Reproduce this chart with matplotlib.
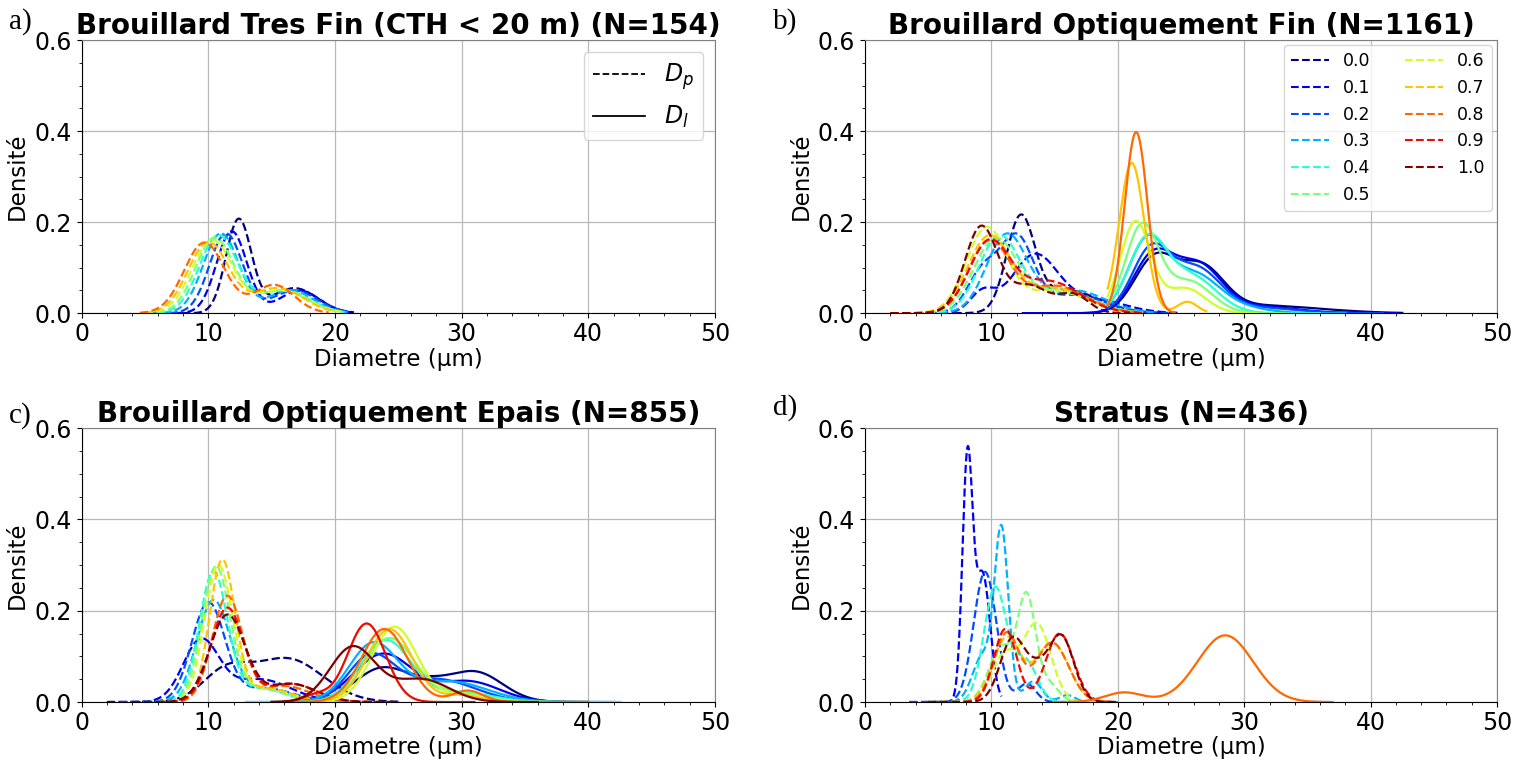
import numpy as np
import matplotlib
matplotlib.use("Agg")
import matplotlib.pyplot as plt
from matplotlib.lines import Line2D

# niveaux de couleur (jet) et styles
niveaux = [0.0, 0.1, 0.2, 0.3, 0.4, 0.5, 0.6, 0.7, 0.8, 0.9, 1.0]

titres = ["Brouillard Tres Fin (CTH < 20 m) (N=154)",
          "Brouillard Optiquement Fin (N=1161)",
          "Brouillard Optiquement Epais (N=855)",
          "Stratus (N=436)"]
lettres = ["a)", "b)", "c)", "d)"]

# Courbes : pour chaque niveau, pics (centre, largeur, hauteur) et domaine (debut, fin)
# --- a) Dp
a_dp_niveaux = [0.0, 0.1, 0.2, 0.3, 0.4, 0.5, 0.6, 0.7, 0.8]
a_dp_pics = [
    [(12.4, 1.0, 0.205), (16.8, 1.8, 0.055)],
    [(11.85, 1.2, 0.18), (17.2, 1.6, 0.05)],
    [(11.4, 1.3, 0.175), (16.8, 1.8, 0.05)],
    [(11.0, 1.4, 0.175), (16.5, 1.8, 0.05)],
    [(10.8, 1.5, 0.17), (16.0, 2.0, 0.05)],
    [(10.5, 1.5, 0.165), (15.8, 2.0, 0.05)],
    [(10.3, 1.6, 0.16), (15.8, 2.0, 0.05)],
    [(10.0, 1.6, 0.155), (15.5, 2.0, 0.055)],
    [(9.7, 1.6, 0.155), (15.2, 1.6, 0.062)],
]
a_dp_domaines = [(7, 21.5), (6.5, 21.3), (6, 21), (5.5, 21), (5, 21), (5, 20.5),
                 (5, 20.5), (4.8, 20), (4.6, 19.5)]

# --- b) Dp et Dl
b_dp_niveaux = niveaux
b_dp_pics = [
    [(12.3, 1.1, 0.2), (16.0, 2.5, 0.05)],
    [(9.3, 1.0, 0.045), (13.4, 1.8, 0.125), (18.0, 2.5, 0.03)],
    [(9.3, 1.2, 0.09), (12.0, 1.3, 0.16), (16.5, 2.5, 0.04)],
    [(11.2, 1.6, 0.17), (16.5, 2.5, 0.05)],
    [(10.6, 1.6, 0.165), (15.5, 2.5, 0.045)],
    [(10.3, 1.7, 0.16), (15.5, 2.5, 0.05)],
    [(9.6, 1.6, 0.185), (15.0, 2.5, 0.05)],
    [(9.8, 1.7, 0.165), (15.0, 2.5, 0.055)],
    [(9.8, 1.6, 0.155), (15.0, 2.5, 0.06)],
    [(9.8, 1.6, 0.15), (14.5, 2.5, 0.07)],
    [(9.2, 1.3, 0.19), (13.0, 1.5, 0.06), (16.5, 1.2, 0.04)],
]
b_dp_domaines = [(7, 24), (5, 25), (5, 24), (4, 23), (3, 22), (3, 22), (3, 22),
                 (3, 22), (2, 22), (2, 22), (2, 21)]
b_dl_niveaux = [0.0, 0.1, 0.2, 0.3, 0.4, 0.5, 0.6, 0.7, 0.8]
b_dl_pics = [
    [(22.9, 1.6, 0.118), (26.6, 1.8, 0.1), (31.5, 3.0, 0.015), (36.5, 3.0, 0.005)],
    [(22.8, 1.6, 0.125), (26.4, 1.8, 0.1), (31.0, 3.0, 0.015)],
    [(22.6, 1.5, 0.135), (26.2, 1.9, 0.095), (31.0, 3.0, 0.012)],
    [(22.3, 1.5, 0.155), (26.0, 2.0, 0.085), (30.0, 2.0, 0.01)],
    [(22.3, 1.5, 0.155), (25.8, 2.0, 0.08)],
    [(21.9, 1.3, 0.19), (25.6, 1.8, 0.07)],
    [(21.4, 1.2, 0.2), (25.3, 1.6, 0.055)],
    [(21.1, 1.0, 0.33), (25.5, 0.8, 0.025)],
    [(21.45, 0.9, 0.398)],
]
b_dl_domaines = [(12.5, 42.5), (12.5, 42), (19.2, 41), (19.2, 38), (19.2, 36),
                 (19.2, 33), (19.2, 31), (19.2, 27), (19.2, 24.5)]

# --- c) Dp et Dl
c_dp_niveaux = niveaux
c_dp_pics = [
    [(11.3, 1.8, 0.06), (16.2, 2.8, 0.095)],
    [(9.4, 1.4, 0.13), (14.0, 2.5, 0.05)],
    [(10.0, 1.3, 0.215), (14.5, 2.2, 0.03)],
    [(10.4, 1.3, 0.22), (14.5, 2.0, 0.03)],
    [(10.4, 1.1, 0.28), (14.0, 2.0, 0.03)],
    [(10.6, 1.1, 0.29), (14.0, 2.0, 0.03)],
    [(10.8, 1.1, 0.295), (14.5, 2.0, 0.03)],
    [(11.1, 1.0, 0.305), (14.5, 2.0, 0.03)],
    [(11.5, 1.2, 0.23), (16.0, 2.0, 0.035)],
    [(11.5, 1.3, 0.205), (16.5, 2.0, 0.04)],
    [(11.5, 1.4, 0.19), (16.5, 2.0, 0.04)],
]
c_dp_domaines = [(2, 25), (2, 22), (3, 20), (4, 21), (5, 22), (5, 22), (6, 22),
                 (7, 22), (6, 25), (6, 25), (4, 25)]
c_dl_niveaux = niveaux
c_dl_pics = [
    [(23.8, 2.2, 0.075), (31.0, 2.2, 0.066), (27.5, 1.5, 0.02)],
    [(23.8, 2.3, 0.105), (30.5, 2.5, 0.045)],
    [(22.8, 1.8, 0.095), (28.0, 3.0, 0.05)],
    [(23.0, 1.9, 0.125), (29.0, 3.0, 0.045)],
    [(24.0, 2.0, 0.135), (30.0, 2.5, 0.02)],
    [(24.3, 2.0, 0.14), (30.0, 2.0, 0.02)],
    [(24.7, 1.8, 0.165), (30.0, 1.5, 0.015)],
    [(24.3, 1.8, 0.16), (30.0, 1.5, 0.015)],
    [(23.9, 1.8, 0.16), (30.5, 1.2, 0.025)],
    [(22.5, 1.5, 0.172), (18.5, 1.0, 0.015)],
    [(21.4, 1.8, 0.12), (26.8, 2.2, 0.05)],
]
c_dl_domaines = [(16, 42), (16, 40), (16, 40), (13, 42.5), (13, 42.5), (16, 40),
                 (16, 40), (16, 40), (16, 40), (15, 31), (15, 36)]

# --- d) Dp et Dl
d_dp_niveaux = [0.1, 0.2, 0.3, 0.4, 0.5, 0.6, 0.7, 0.8, 0.9, 1.0]
d_dp_pics = [
    [(8.1, 0.4, 0.52), (9.3, 0.6, 0.28)],
    [(9.5, 0.9, 0.285), (12.8, 0.7, 0.04)],
    [(10.8, 0.55, 0.37), (9.3, 0.8, 0.1), (13.3, 0.7, 0.045), (16.0, 0.6, 0.015)],
    [(10.3, 0.9, 0.25), (12.7, 0.9, 0.09)],
    [(12.8, 0.7, 0.22), (10.8, 1.0, 0.12), (14.5, 0.8, 0.04)],
    [(13.6, 1.1, 0.17), (11.0, 1.0, 0.1)],
    [(11.2, 1.1, 0.14), (14.8, 1.3, 0.13)],
    [(11.2, 1.0, 0.15), (14.8, 1.3, 0.13)],
    [(11.1, 0.9, 0.16), (15.4, 1.1, 0.15)],
    [(11.7, 1.0, 0.14), (15.5, 1.0, 0.145), (13.6, 0.8, 0.05)],
]
d_dp_domaines = [(3.5, 10.8), (3.5, 16), (5, 20), (5, 16), (5, 19), (5, 19),
                 (5, 20), (5, 20), (5, 19.8), (5, 20)]
d_dl_niveaux = [0.8]
d_dl_pics = [[(20.5, 1.5, 0.021), (28.5, 2.2, 0.146)]]
d_dl_domaines = [(15, 37)]


def courbe(pics, debut, fin):
    x = np.linspace(debut, fin, 400)
    y = np.zeros_like(x)
    for centre, largeur, hauteur in pics:
        y += hauteur * np.exp(-0.5 * ((x - centre) / largeur) ** 2)
    return x, y


def tracer(ax, niv, pics, domaines, style):
    for n, p, (d0, d1) in zip(niv, pics, domaines):
        x, y = courbe(p, d0, d1)
        ax.plot(x, y, linestyle=style, color=plt.cm.jet(n), linewidth=1.6)


fig = plt.figure(figsize=(15.24, 7.62), dpi=100)
rects = [[0.0535, 0.589, 0.4157, 0.3583],
         [0.5676, 0.589, 0.4147, 0.3583],
         [0.0535, 0.0787, 0.4157, 0.3596],
         [0.5676, 0.0787, 0.4147, 0.3596]]
axes = [fig.add_axes(r) for r in rects]

tracer(axes[0], a_dp_niveaux, a_dp_pics, a_dp_domaines, "--")
tracer(axes[1], b_dp_niveaux, b_dp_pics, b_dp_domaines, "--")
tracer(axes[1], b_dl_niveaux, b_dl_pics, b_dl_domaines, "-")
tracer(axes[2], c_dp_niveaux, c_dp_pics, c_dp_domaines, "--")
tracer(axes[2], c_dl_niveaux, c_dl_pics, c_dl_domaines, "-")
tracer(axes[3], d_dp_niveaux, d_dp_pics, d_dp_domaines, "--")
tracer(axes[3], d_dl_niveaux, d_dl_pics, d_dl_domaines, "-")

for ax, titre in zip(axes, titres):
    ax.set_xlim(0, 50)
    ax.set_ylim(0, 0.6)
    ax.set_xticks([0, 10, 20, 30, 40, 50])
    ax.set_yticks([0.0, 0.2, 0.4, 0.6])
    ax.minorticks_on()
    ax.grid(True, which="major", color="#b8b8b8", linewidth=0.9)
    ax.set_axisbelow(True)
    ax.tick_params(labelsize=17)
    ax.tick_params(axis="x", pad=3)
    ax.set_xlabel("Diametre (µm)", fontsize=16.5, labelpad=1)
    ax.set_ylabel("Densité", fontsize=16.5)
    ax.set_title(titre, fontsize=20, fontweight="bold", pad=4)
    for s in ["top", "right"]:
        ax.spines[s].set_color("0.5")

# legende a)
poignees = [Line2D([0], [0], color="black", linestyle="--", linewidth=1.3),
            Line2D([0], [0], color="black", linestyle="-", linewidth=1.3)]
axes[0].legend(poignees, [r"$D_p$", r"$D_l$"], loc="upper right", fontsize=17,
               handlelength=2.2)

# legende b)
poignees_b = [Line2D([0], [0], color=plt.cm.jet(n), linestyle="--", linewidth=1.5)
              for n in niveaux]
axes[1].legend(poignees_b, ["%.1f" % n for n in niveaux], loc="upper right",
               ncol=2, fontsize=12.5, handlelength=2.2, columnspacing=2.0,
               borderaxespad=0.3)

positions = [(0.006, 0.972), (0.507, 0.972), (0.006, 0.455), (0.507, 0.465)]
for (px, py), lettre in zip(positions, lettres):
    fig.text(px, py, lettre, fontsize=21, family="Liberation Serif", va="center")

fig.savefig("out.png", dpi=100)
